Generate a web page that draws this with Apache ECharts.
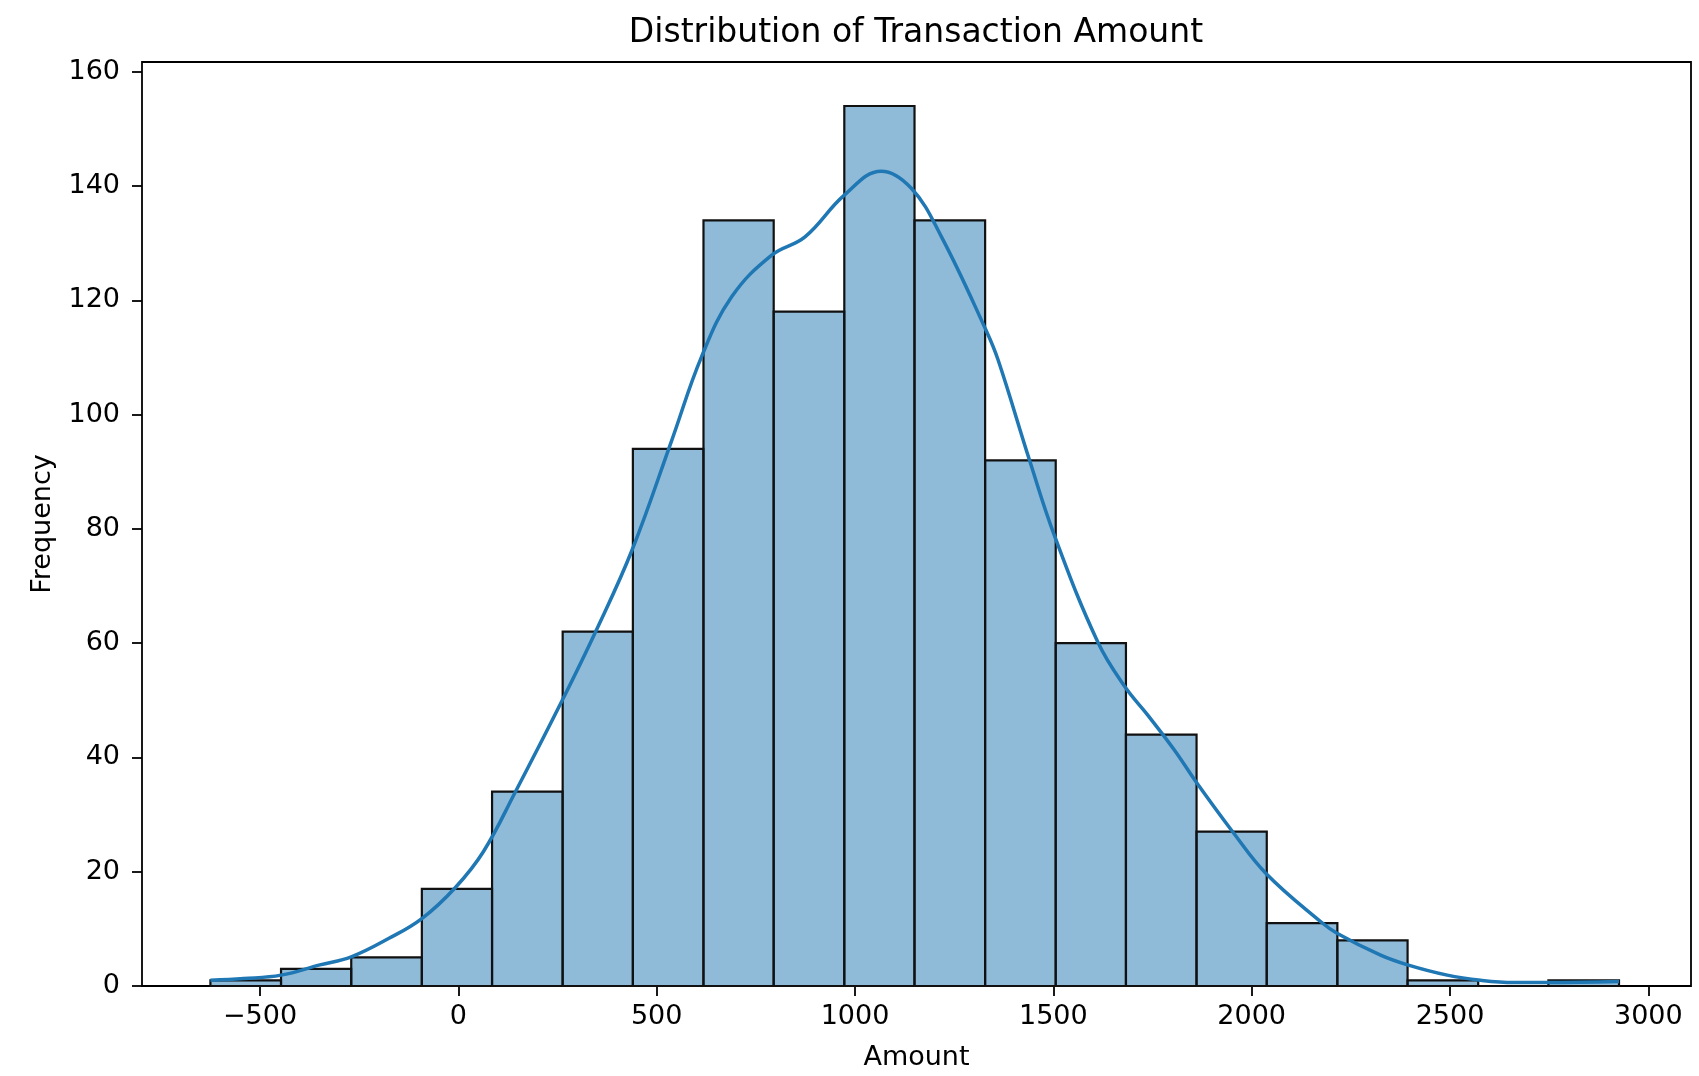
<!DOCTYPE html>
<html>
<head>
<meta charset="utf-8">
<script src="https://cdn.jsdelivr.net/npm/echarts@6/dist/echarts.min.js"></script>
<style>
  html, body { margin: 0; padding: 0; background: #fff; }
  #chart { width: 1699px; height: 1076px; }
</style>
</head>
<body>
<div id="chart"></div>
<script>
// histogram bins (edges) and counts
var binEdges = [-625, -447, -270, -92, 85, 263, 440, 618, 795, 973, 1150, 1328, 1506, 1683, 1861, 2038, 2216, 2393, 2571, 2748, 2926];
var counts = [1, 3, 5, 17, 34, 62, 94, 134, 118, 154, 134, 92, 60, 44, 27, 11, 8, 1, 0, 1];

// kde curve
var kdeX = [-625, -541, -447, -349, -270, -176, -92, -8, 63, 144, 262, 346, 438, 538, 613, 689, 790, 874, 973, 1066, 1142, 1218, 1330, 1361, 1440, 1504, 1612, 1680, 1738, 1805, 1860, 1952, 2036, 2175, 2216, 2325, 2393, 2493, 2577, 2661, 2745, 2926];
var kdeY = [1.0, 1.3, 1.9, 3.7, 5.1, 8.3, 11.8, 17.2, 23.5, 34.0, 50.0, 62.0, 76.3, 95.5, 110.1, 120.6, 127.9, 131.1, 138.4, 142.6, 139.6, 131.1, 114.8, 109.5, 92.0, 78.6, 60.2, 52.4, 47.4, 41.3, 35.7, 27.0, 19.7, 11.2, 9.2, 5.4, 3.7, 1.9, 1.0, 0.6, 0.6, 0.8];

var xTicks = [-500, 0, 500, 1000, 1500, 2000, 2500, 3000];
var yTicks = [0, 20, 40, 60, 80, 100, 120, 140, 160];

var font = "'DejaVu Sans', sans-serif";

var histData = [];
for (var i = 0; i < counts.length; i++) {
    histData.push([binEdges[i], binEdges[i + 1], counts[i]]);
}
var kdeData = kdeX.map(function (x, i) { return [x, kdeY[i]]; });

var chart = echarts.init(document.getElementById("chart"));
var option = {
    backgroundColor: "#fff",
    animation: false,
    title: {
        text: "Distribution of Transaction Amount",
        left: 916,
        top: 17,
        textAlign: "center",
        padding: 0,
        textStyle: {
            fontFamily: font,
            fontSize: 33,
            fontWeight: "normal",
            color: "#000"
        }
    },
    grid: {
        left: 142,
        top: 62,
        width: 1549,
        height: 924,
        show: true,
        borderColor: "#000",
        borderWidth: 1.8,
        backgroundColor: "transparent"
    },
    xAxis: {
        type: "value",
        min: -797.5,
        max: 3107.5,
        name: "Amount",
        nameLocation: "middle",
        nameGap: 58,
        nameTextStyle: { fontFamily: font, fontSize: 27, color: "#000" },
        splitLine: { show: false },
        axisLine: { show: false, onZero: false },
        axisTick: {
            show: true,
            length: 10,
            customValues: xTicks,
            lineStyle: { color: "#000", width: 1.8 }
        },
        axisLabel: {
            customValues: xTicks,
            margin: 17,
            fontFamily: font,
            fontSize: 27,
            color: "#000",
            formatter: function (v) {
                return String(v).replace("-", "\u2212");
            }
        }
    },
    yAxis: {
        type: "value",
        min: 0,
        max: 161.7,
        name: "Frequency",
        nameLocation: "middle",
        nameGap: 86,
        nameTextStyle: { fontFamily: font, fontSize: 27, color: "#000" },
        splitLine: { show: false },
        axisLine: { show: false, onZero: false },
        axisTick: {
            show: true,
            length: 10,
            customValues: yTicks,
            lineStyle: { color: "#000", width: 1.8 }
        },
        axisLabel: {
            customValues: yTicks,
            margin: 22,
            fontFamily: font,
            fontSize: 27,
            color: "#000"
        }
    },
    series: [
        {
            name: "hist",
            type: "custom",
            data: histData,
            encode: { x: [0, 1], y: 2 },
            renderItem: function (params, api) {
                var p0 = api.coord([api.value(0), api.value(2)]);
                var p1 = api.coord([api.value(1), 0]);
                return {
                    type: "rect",
                    shape: {
                        x: p0[0],
                        y: p0[1],
                        width: p1[0] - p0[0],
                        height: p1[1] - p0[1]
                    },
                    style: {
                        fill: "rgba(31,119,180,0.5)",
                        stroke: "#111",
                        lineWidth: 2.2
                    }
                };
            }
        },
        {
            name: "kde",
            type: "line",
            data: kdeData,
            smooth: 0.4,
            showSymbol: false,
            symbol: "none",
            z: 5,
            lineStyle: { color: "#1f77b4", width: 3.5 }
        }
    ]
};
chart.setOption(option);
</script>
</body>
</html>
